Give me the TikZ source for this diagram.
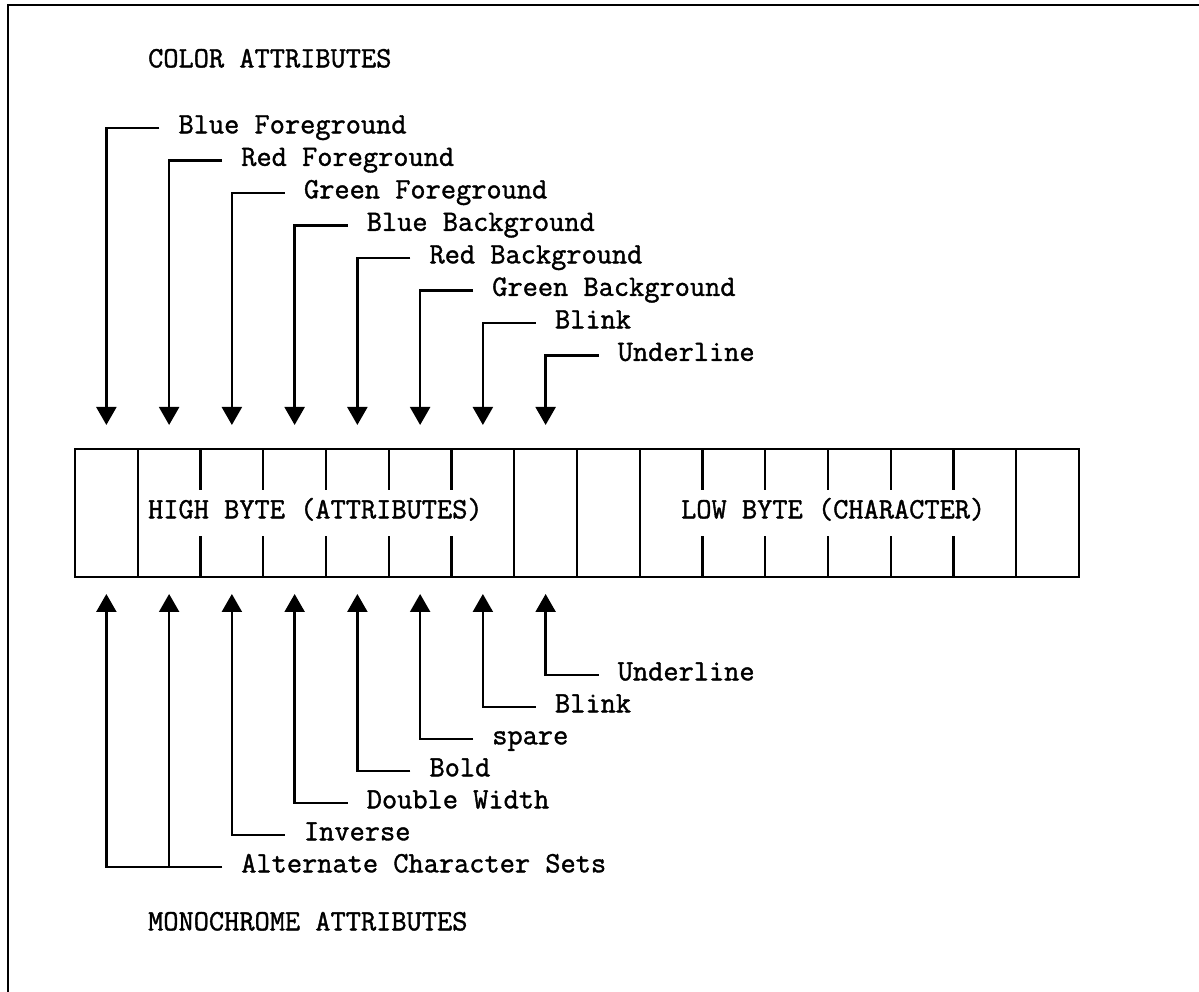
\documentclass[tikz,border=0pt]{standalone}
\usepackage{fontspec}
\setmonofont{lmmono12-regular}[Extension=.otf, FakeBold=1.3]
\usepackage{tikz}
\usetikzlibrary{arrows.meta}

\begin{document}
\begin{tikzpicture}[
    >={Triangle[length=0.36cm,width=0.4cm]},
    line width=1.3pt,
    font=\fontsize{16.8}{20}\selectfont\ttfamily,
    cell/.style={minimum width=1.255cm, minimum height=2.56cm, inner sep=0pt, outer sep=0pt},
    lbl/.style={anchor=west, inner xsep=0.36cm, inner ysep=0pt, text height=0.61em, text depth=0pt},
    title/.style={anchor=west, inner sep=0pt, text height=0.61em, text depth=0pt},
    down/.style={->, shorten >=0.48cm},
    up/.style={->, shorten >=0.34cm}
]

\useasboundingbox (0,0) rectangle (23.98,19.84);

% Marc
\draw[line width=1.5pt] (0.16,0) -- (0.16,19.74) -- (23.98,19.74);

% Registre
\foreach \i in {0,...,15}
    \node[cell] (b\i) at ({1.5+1.255*(\i+0.5)},9.58) {};
\draw (b0.north west) rectangle (b15.south east);
\foreach \i in {0,6,7,8,14}
    \draw (b\i.north east) -- (b\i.south east);
\foreach \i in {1,...,5,9,10,11,12,13} {
    \draw (b\i.north east) -- ++(0,-0.82);
    \draw (b\i.south east) -- ++(0,0.82);
}
\node[title] (high) at (2.94,9.58) {HIGH BYTE (ATTRIBUTES)};
\node[title] (low) at (13.6,9.58) {LOW BYTE (CHARACTER)};

% Atributs de color
\node[title] (color) at (2.94,18.6) {COLOR ATTRIBUTES};
\foreach \i/\txt in {0/Blue Foreground, 1/Red Foreground, 2/Green Foreground,
        3/Blue Background, 4/Red Background, 5/Green Background, 6/Blink, 7/Underline} {
    \node[lbl] (c\i) at ({1.5+1.255*(\i+0.5)+1.06},{17.28-0.65*\i}) {\txt};
    \draw[down] (c\i.west) -| (b\i.north);
}

% Atributs monocrom
\foreach \i/\txt/\y in {7/Underline/6.34, 6/Blink/5.70, 5/spare/5.06, 4/Bold/4.42,
        3/Double Width/3.78, 2/Inverse/3.14} {
    \node[lbl] (m\i) at ({1.5+1.255*(\i+0.5)+1.06},\y) {\txt};
    \draw[up] (m\i.west) -| (b\i.south);
}
\node[lbl] (alt) at ({1.5+1.255*1.5+1.06},2.50) {Alternate Character Sets};
\draw[up] (alt.west) -| (b1.south);
\draw[up] (alt.west) -| (b0.south);
\node[title] (mono) at (2.94,1.34) {MONOCHROME ATTRIBUTES};

\end{tikzpicture}
\end{document}
